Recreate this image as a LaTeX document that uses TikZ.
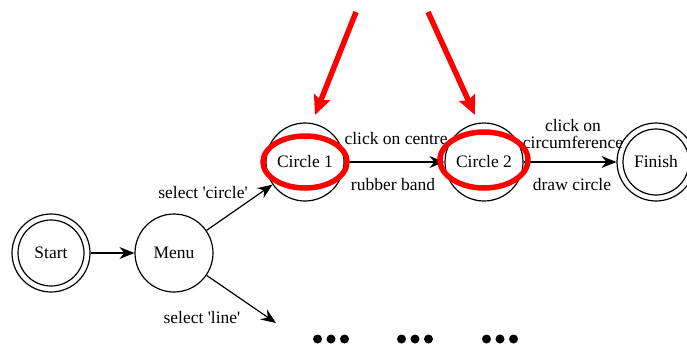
\documentclass[tikz,border=0pt]{standalone}
\usepackage{fontspec}
\setmainfont{Liberation Serif}
\usetikzlibrary{arrows.meta}
\begin{document}
\begin{tikzpicture}[x=1pt,y=-1pt,
  state/.style={circle,draw,line width=1.2pt,minimum size=78pt,inner sep=0pt,
    font=\fontsize{17.5}{18}\selectfont},
  lbl/.style={inner sep=0pt,align=center,font=\fontsize{17.5}{17.5}\selectfont},
  arr/.style={line width=1.2pt,-{Stealth[length=15pt,width=12pt,inset=5pt]}},
  pointer/.style={draw=red,line width=5.5pt,-{Stealth[length=19pt,width=17pt,inset=3pt]}},
  focus/.style={draw=red,line width=5.5pt},
  dot/.style={fill=black}]
\path[use as bounding box] (0,0) rectangle (687,345);

% states
\node[state] (start)  at (51,253)  {Start};
\draw[line width=1.2pt] (start.center) circle (33pt);
\node[state] (menu)   at (174,253) {Menu};
\node[state] (c1)     at (305,162) {Circle 1};
\node[state] (c2)     at (484,162) {Circle 2};
\node[state] (finish) at (656,162) {Finish};
\draw[line width=1.2pt] (finish.center) circle (33pt);

% transitions
\coordinate (lineend) at (276,323);
\draw[arr] (start) -- (menu);
\draw[arr] (menu) -- (c1);
\draw[arr] (menu) -- (lineend);
\draw[arr] (c1) -- (c2);
\draw[arr] (c2) -- (finish);

% transition labels
\node[lbl] (lcircle) at (203,193) {select \textquotesingle circle\textquotesingle};
\node[lbl] (lline)   at (202,318) {select \textquotesingle line\textquotesingle};
\node[lbl] (lcentre) at (396,139) {click on centre};
\node[lbl] (lband)   at (393,185) {rubber band};
\node[lbl] (lcirc)   at (573,134) {click on\\circumference};
\node[lbl] (ldraw)   at (572,185) {draw circle};

% further states, elided
\foreach \cx in {317.5,401.5,486.5}
  \foreach \k in {0,1,2}
    \fill[dot] (\cx+13.5*\k,339) circle (4.5pt);

% highlighted states
\draw[focus] (305,162) ellipse (42pt and 26pt);
\draw[focus] (484,160) ellipse (44pt and 28pt);
\coordinate (p1s) at (356,12);
\coordinate (p1e) at (315,115);
\coordinate (p2s) at (428,12);
\coordinate (p2e) at (475,115);
\draw[pointer] (p1s) -- (p1e);
\draw[pointer] (p2s) -- (p2e);
\end{tikzpicture}
\end{document}
